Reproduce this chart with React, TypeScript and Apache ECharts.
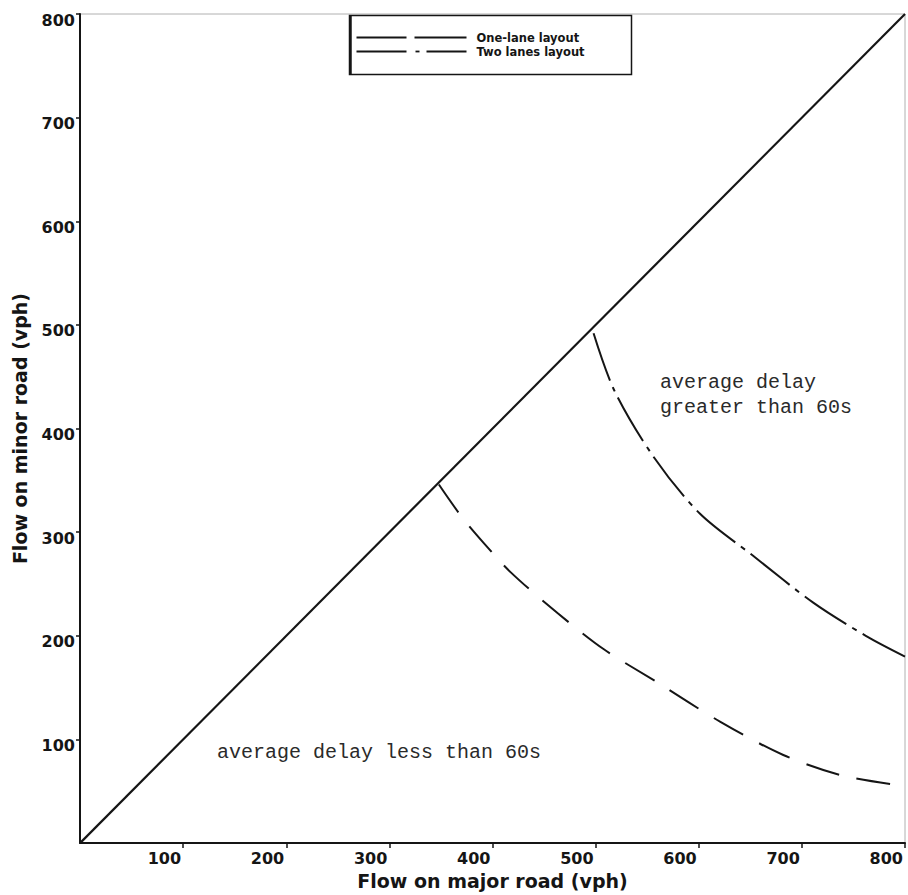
import React, { useEffect, useRef } from "react";
import * as echarts from "echarts";

// ---- data ----
const axisMin = 0;
const axisMax = 800;
const axisStep = 100;

const diagonalX = [0, 800];
const diagonalY = [0, 800];

// one-lane layout boundary (long dashes)
const oneLaneX = [348, 370, 392, 418, 463, 508, 560, 621, 682, 740, 800];
const oneLaneY = [346, 315, 289, 261, 222, 187, 155, 117, 85, 65, 55];

// two lanes layout boundary (dash-dot)
const twoLaneX = [498, 518, 556, 601, 653, 711, 762, 800];
const twoLaneY = [492, 437, 373, 318, 277, 232, 200, 180];

const legendLabels = ["One-lane layout", "Two lanes layout"];
const xTitle = "Flow on major road (vph)";
const yTitle = "Flow on minor road (vph)";
const noteHigh = "average delay\ngreater than 60s";
const noteLow = "average delay less than 60s";

const zip = (xs: number[], ys: number[]) => xs.map((x, i) => [x, ys[i]]);

export default function App() {
  const ref = useRef<HTMLDivElement>(null);

  useEffect(() => {
    if (!ref.current) return;
    const chart = echarts.init(ref.current, undefined, { renderer: "svg" });
    const ink = "#151515";
    const labelFont = {
      fontFamily: "DejaVu Sans",
      fontWeight: "bold" as const,
      fontSize: 16,
      color: ink,
    };
    const legendFont = {
      fontFamily: "DejaVu Sans",
      fontWeight: "bold" as const,
      fontSize: 11.5,
      fill: ink,
    };
    const noteFont = {
      fontFamily: "Liberation Mono",
      fontSize: 20,
      fill: "#2a2a2a",
      lineHeight: 25,
    };

    chart.setOption({
      animation: false,
      backgroundColor: "#ffffff",
      grid: {
        left: 80,
        right: 3,
        top: 14,
        bottom: 47,
        show: true,
        borderColor: "#b0b0b0",
        borderWidth: 1,
        backgroundColor: "transparent",
      },
      xAxis: {
        type: "value",
        min: axisMin,
        max: axisMax,
        interval: axisStep,
        name: xTitle,
        nameLocation: "middle",
        nameGap: 22,
        nameTextStyle: { ...labelFont, fontSize: 19 },
        axisLine: { show: true, lineStyle: { color: ink, width: 2 } },
        axisTick: { show: true, length: 5, lineStyle: { color: ink, width: 1.5 } },
        splitLine: { show: false },
        axisLabel: {
          ...labelFont,
          align: "right",
          margin: 7,
          padding: [0, 2, 0, 0],
          showMinLabel: false,
          formatter: (v: number) => (v === 0 ? "" : String(v)),
        },
      },
      yAxis: {
        type: "value",
        min: axisMin,
        max: axisMax,
        interval: axisStep,
        name: yTitle,
        nameLocation: "middle",
        nameGap: 51,
        nameRotate: 90,
        nameTextStyle: { ...labelFont, fontSize: 19 },
        axisLine: { show: true, lineStyle: { color: ink, width: 2 } },
        axisTick: { show: true, length: 4, lineStyle: { color: ink, width: 1.5 } },
        splitLine: { show: false },
        axisLabel: {
          ...labelFont,
          margin: 5,
          verticalAlign: "top",
          lineHeight: 12,
          showMinLabel: false,
          formatter: (v: number) => (v === 0 ? "" : String(v)),
        },
      },
      series: [
        {
          name: "Boundary",
          type: "line",
          data: zip(diagonalX, diagonalY),
          showSymbol: false,
          lineStyle: { color: ink, width: 2.2 },
        },
        {
          name: legendLabels[0],
          type: "line",
          data: zip(oneLaneX, oneLaneY),
          smooth: 0.3,
          showSymbol: false,
          lineStyle: { color: ink, width: 2, type: [34, 18] },
        },
        {
          name: legendLabels[1],
          type: "line",
          data: zip(twoLaneX, twoLaneY),
          smooth: 0.3,
          showSymbol: false,
          lineStyle: { color: ink, width: 2, type: [50, 7, 5, 7] },
        },
      ],
      graphic: [
        {
          type: "group",
          left: 348,
          top: 13,
          children: [
            {
              type: "rect",
              shape: { x: 0, y: 0, width: 282, height: 59 },
              style: { fill: "#fff", stroke: ink, lineWidth: 1.5 },
            },
            {
              type: "line",
              shape: { x1: 1, y1: 0, x2: 1, y2: 59 },
              style: { stroke: ink, lineWidth: 2.5 },
            },
            {
              type: "line",
              shape: { x1: 7, y1: 22, x2: 57, y2: 22 },
              style: { stroke: ink, lineWidth: 1.8 },
            },
            {
              type: "line",
              shape: { x1: 65, y1: 22, x2: 117, y2: 22 },
              style: { stroke: ink, lineWidth: 1.8 },
            },
            {
              type: "text",
              x: 127,
              y: 22,
              style: { ...legendFont, text: legendLabels[0], verticalAlign: "middle" },
            },
            {
              type: "line",
              shape: { x1: 7, y1: 36, x2: 57, y2: 36 },
              style: { stroke: ink, lineWidth: 1.8 },
            },
            {
              type: "line",
              shape: { x1: 66, y1: 36, x2: 70, y2: 36 },
              style: { stroke: ink, lineWidth: 1.8 },
            },
            {
              type: "line",
              shape: { x1: 77, y1: 36, x2: 117, y2: 36 },
              style: { stroke: ink, lineWidth: 1.8 },
            },
            {
              type: "text",
              x: 127,
              y: 36,
              style: { ...legendFont, text: legendLabels[1], verticalAlign: "middle" },
            },
          ],
        },
        {
          type: "text",
          left: 660,
          top: 370,
          style: { ...noteFont, text: noteHigh },
        },
        {
          type: "text",
          left: 217,
          top: 740,
          style: { ...noteFont, text: noteLow },
        },
      ],
    });
    return () => chart.dispose();
  }, []);

  return (
    <div
      ref={ref}
      style={{ position: "absolute", left: 0, top: 0, width: 908, height: 895 }}
    />
  );
}
